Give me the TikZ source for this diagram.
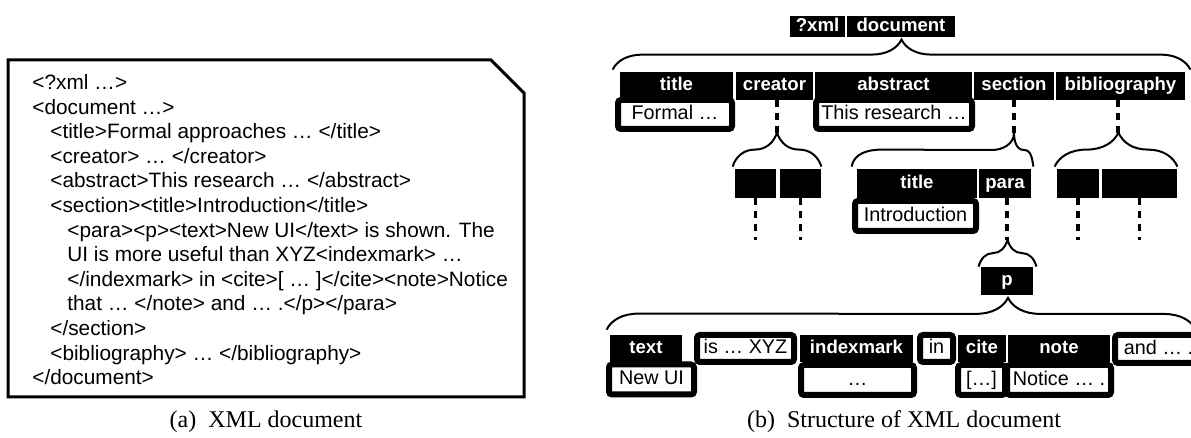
\documentclass[tikz,border=0pt]{standalone}
\usepackage{fontspec}
\setmainfont{Liberation Serif}
\setsansfont{Liberation Sans}
\usetikzlibrary{decorations.pathreplacing, calc}

\begin{document}
\begin{tikzpicture}[
    x=0.5pt, y=-0.5pt,
    hdr/.style={fill=black, text=white, font=\sffamily\bfseries\fontsize{9.3}{11}\selectfont, inner sep=0pt, minimum width=#1, minimum height=14pt, text height=6.8pt, text depth=1.9pt},
    leaf/.style={draw=black, fill=white, line width=3pt, rounded corners=1.5pt, font=\sffamily\fontsize{9.9}{12}\selectfont, inner sep=0pt, minimum width=#1, minimum height=15pt, text height=7.1pt, text depth=2pt},
    dashline/.style={line width=1.7pt, dash pattern=on 3.5pt off 3pt},
    grp/.style={decorate, decoration={brace, amplitude=#1}, line width=1pt},
    caption/.style={font=\rmfamily\fontsize{12}{14}\selectfont}
]
\useasboundingbox (0,0) rectangle (1191,438);

% XML source box
\draw[line width=1.5pt] (8,60) -- (491,60) -- (524,93) -- (524,397) -- (8,397) -- cycle;
\node[anchor=north west, inner sep=0pt, align=left, font=\sffamily\fontsize{10.4}{12.3}\selectfont] (xmlsrc) at (32,74) {%
<?xml …>\\
<document …>\\
\hspace*{9pt}<title>Formal approaches … </title>\\
\hspace*{9pt}<creator> … </creator>\\
\hspace*{9pt}<abstract>This research … </abstract>\\
\hspace*{9pt}<section><title>Introduction</title>\\
\hspace*{17.5pt}<para><p><text>New UI</text> is shown. The\\
\hspace*{17.5pt}UI is more useful than XYZ<indexmark> …\\
\hspace*{17.5pt}</indexmark> in <cite>[ … ]</cite><note>Notice\\
\hspace*{17.5pt}that … </note> and … .</p></para>\\
\hspace*{9pt}</section>\\
\hspace*{9pt}<bibliography> … </bibliography>\\
</document>};

% Root
\node[hdr=27.5pt, minimum height=10.5pt] (xml) at (817.5,26.5) {?xml};
\node[hdr=54pt, minimum height=10.5pt] (doc) at (901,26.5) {document};

% Children of document
\node[leaf=57pt, minimum height=14.5pt] (fml) at (675,114.5) {Formal …};
\node[leaf=78pt, minimum height=14.5pt] (res) at (894,114.5) {This research …};
\node[hdr=56.5pt] (ttl) at (676.5,86) {title};
\node[hdr=38.5pt] (crt) at (774.5,86) {creator};
\node[hdr=78.5pt] (abs) at (893.5,86) {abstract};
\node[hdr=40pt] (sec) at (1014,86) {section};
\node[hdr=64.5pt] (bib) at (1120.5,86) {bibliography};

% Second level
\node[hdr=20.5pt, minimum height=14.5pt] (c1) at (755.5,183.5) {};
\node[hdr=20.5pt, minimum height=14.5pt] (c2) at (800.5,183.5) {};
\node[leaf=60.5pt] (intro) at (915.5,216) {Introduction};
\node[hdr=60pt, minimum height=14.5pt] (sttl) at (917,183.5) {title};
\node[hdr=26pt, minimum height=14.5pt] (para) at (1005,183.5) {para};
\node[hdr=21pt, minimum height=14.5pt] (b1) at (1078,183.5) {};
\node[hdr=37.5pt, minimum height=14.5pt] (b2) at (1139.5,183.5) {};

% Paragraph
\node[hdr=26pt] (p) at (1007,281) {p};

% Children of p
\node[leaf=42.5pt] (newui) at (651.5,379.5) {New UI};
\node[leaf=56.5pt] (dots) at (857.5,380) {…};
\node[leaf=23.5pt] (cbr) at (981.5,380) {[…]};
\node[leaf=52pt] (ntc) at (1059,380) {Notice … .};
\node[hdr=36pt, minimum height=13.5pt] (txt) at (646,348.5) {text};
\node[leaf=48.5pt, minimum height=13.5pt] (isx) at (745.5,348.5) {is … XYZ};
\node[hdr=56.5pt, minimum height=13.5pt] (idx) at (856.5,348.5) {indexmark};
\node[leaf=16.5pt, minimum height=13.5pt] (inn) at (936.5,348.5) {in};
\node[hdr=24pt, minimum height=13.5pt] (cite) at (982,348.5) {cite};
\node[hdr=51pt, minimum height=13.5pt] (note) at (1059,348.5) {note};
\node[leaf=43.5pt, minimum height=14pt] (andx) at (1158.5,349) {and … .};

% Brace tips and free ends
\coordinate (crttip) at (777,133);
\coordinate (sectip) at (1014,133);
\coordinate (bibtip) at (1118,133);
\coordinate (paratip) at (1007,240);
\coordinate (pend) at (1196,330);

% Braces
\draw[grp=15pt] ($(ttl.north west)+(-7,-2)$) -- ($(bib.north east)+(5,-2)$);
\draw[grp=17pt] ($(c1.north west)+(-2,-2)$) -- ($(c2.north east)+(0,-2)$);
\draw[line width=1pt] ($(sttl.north west)+(-5,-2)$) to[out=80,in=180] ++(30,-17) -- ($(sectip)+(-22,17)$) to[out=0,in=-90] (sectip) to[out=-90,in=180] ($(sectip)+(10,17)$) to[out=0,in=100] ($(para.north east)+(2,-2)$);
\draw[grp=17pt, decoration={aspect=0.52}] ($(b1.north west)+(-2,-2)$) -- ($(b2.north east)+(0,-2)$);
\draw[grp=13.5pt] ($(p.north west)+(-2,0)$) -- ($(p.north east)+(3,0)$);
\draw[grp=16pt, decoration={aspect=0.681}] ($(txt.north west)+(-3,-5)$) -- (pend);

% Dashed links
\draw[dashline] (crt.south -| crttip) -- (crttip);
\draw[dashline] (sec.south) -- (sectip);
\draw[dashline] (bib.south -| bibtip) -- (bibtip);
\draw[dashline] (para.south -| paratip) -- (paratip);
\draw[dashline] (c1.south) -- ++(0,42);
\draw[dashline] (c2.south) -- ++(0,42);
\draw[dashline] (b1.south) -- ++(0,42);
\draw[dashline] (b2.south) -- ++(0,42);

% Captions
\node[caption] (capa) at (266,422) {(a)\ \ XML document};
\node[caption] (capb) at (904,422) {(b)\ \ Structure of XML document};

\end{tikzpicture}
\end{document}
